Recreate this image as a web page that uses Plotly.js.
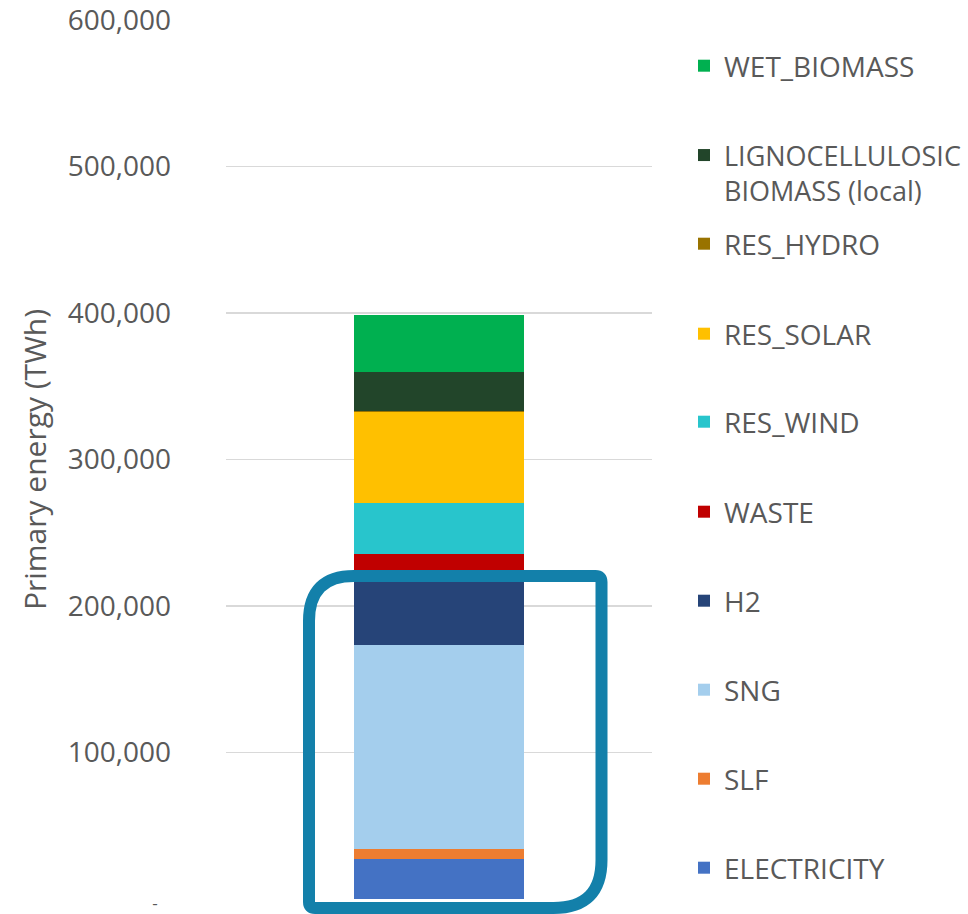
<!DOCTYPE html>
<html>
<head>
<meta charset="utf-8">
<script src="https://cdn.plot.ly/plotly-3.0.1.min.js"></script>
<style>html,body{margin:0;padding:0;background:#fff;}#chart{width:968px;height:914px;}</style>
</head>
<body>
<div id="chart"></div>
<script>
// ---- data ----
var category = ['2050'];
var seriesNames = ['ELECTRICITY', 'SLF', 'SNG', 'H2', 'WASTE', 'RES_WIND', 'RES_SOLAR', 'RES_HYDRO', 'LIGNOCELLULOSIC<br>BIOMASS (local)', 'WET_BIOMASS'];
var seriesValues = [27400, 6900, 139000, 50500, 12000, 34300, 62000, 700, 27000, 39000];
var seriesColors = ['#4472C4', '#ED7D31', '#A4CEED', '#264478', '#C00000', '#28C5CC', '#FFC000', '#997300', '#22452A', '#00B050'];
var yTickVals = [0, 100000, 200000, 300000, 400000, 500000, 600000];
var yTickText = ['<span style="font-size:17px">-\u00a0\u00a0\u00a0</span>', '100,000', '200,000', '300,000', '400,000', '500,000', '600,000'];

// ---- layout geometry (pixels) ----
var W = 968, H = 914;
var mL = 226, mR = 316, mT = 20, mB = 15;
var pw = W - mL - mR, ph = H - mT - mB;
function px(x) { return (x - mL) / pw; }
function py(y) { return (H - mB - y) / ph; }

var legendCenters = [868, 779, 690, 601, 512, 422, 334, 244, 173, 66];
var legendLeft = 684;

var traces = [];
var layout = {
  width: W, height: H,
  margin: {l: mL, r: mR, t: mT, b: mB, pad: 0, autoexpand: false},
  paper_bgcolor: '#ffffff',
  plot_bgcolor: '#ffffff',
  font: {family: '"Open Sans", sans-serif', color: '#595959', size: 28},
  barmode: 'stack',
  bargap: 0.6,
  showlegend: true,
  xaxis: {type: 'category', showticklabels: false, showgrid: false,
          zeroline: false, showline: false, ticks: '', fixedrange: true},
  yaxis: {
    range: [0, 600000], tickvals: yTickVals, ticktext: yTickText,
    showgrid: true, gridcolor: '#d9d9d9', gridwidth: 1.5,
    zeroline: false, showline: false, ticks: '',
    ticklabelstandoff: 54, ticklabeloverflow: 'allow',
    tickfont: {size: 28, color: '#595959'},
    title: {text: 'Primary energy (TWh)', font: {size: 30, color: '#595959'}, standoff: 12}
  },
  shapes: []
};

for (var i = 0; i < seriesNames.length; i++) {
  var lg = i === 0 ? 'legend' : 'legend' + (i + 1);
  traces.push({
    type: 'bar', x: category, y: [seriesValues[i]], name: seriesNames[i],
    marker: {color: seriesColors[i], line: {width: 0}},
    legend: lg, hoverinfo: 'skip', cliponaxis: false
  });
  layout[lg] = {
    x: px(legendLeft), xanchor: 'left',
    y: py(legendCenters[i]), yanchor: 'middle',
    bgcolor: 'rgba(0,0,0,0)', borderwidth: 0,
    font: {size: (seriesNames[i].indexOf('<br>') >= 0 ? 27 : 28), color: '#595959'},
    valign: 'top', itemclick: false, itemdoubleclick: false
  };
}

// rounded highlight outline (annotation shape)
var L = 309, R = 601.5, T = 576, B = 908;
var rTL = 45, rTR = 6, rBR = 48, rBL = 6;
var path = 'M ' + px(L) + ',' + py(T + rTL) +
  ' Q ' + px(L) + ',' + py(T) + ' ' + px(L + rTL) + ',' + py(T) +
  ' L ' + px(R - rTR) + ',' + py(T) +
  ' Q ' + px(R) + ',' + py(T) + ' ' + px(R) + ',' + py(T + rTR) +
  ' L ' + px(R) + ',' + py(B - rBR) +
  ' Q ' + px(R) + ',' + py(B) + ' ' + px(R - rBR) + ',' + py(B) +
  ' L ' + px(L + rBL) + ',' + py(B) +
  ' Q ' + px(L) + ',' + py(B) + ' ' + px(L) + ',' + py(B - rBL) + ' Z';
layout.shapes.push({type: 'path', xref: 'paper', yref: 'paper', path: path,
  line: {color: '#1380AA', width: 12}, fillcolor: 'rgba(0,0,0,0)', layer: 'above'});

Plotly.newPlot('chart', traces, layout, {displayModeBar: false, staticPlot: true});
</script>
</body>
</html>
